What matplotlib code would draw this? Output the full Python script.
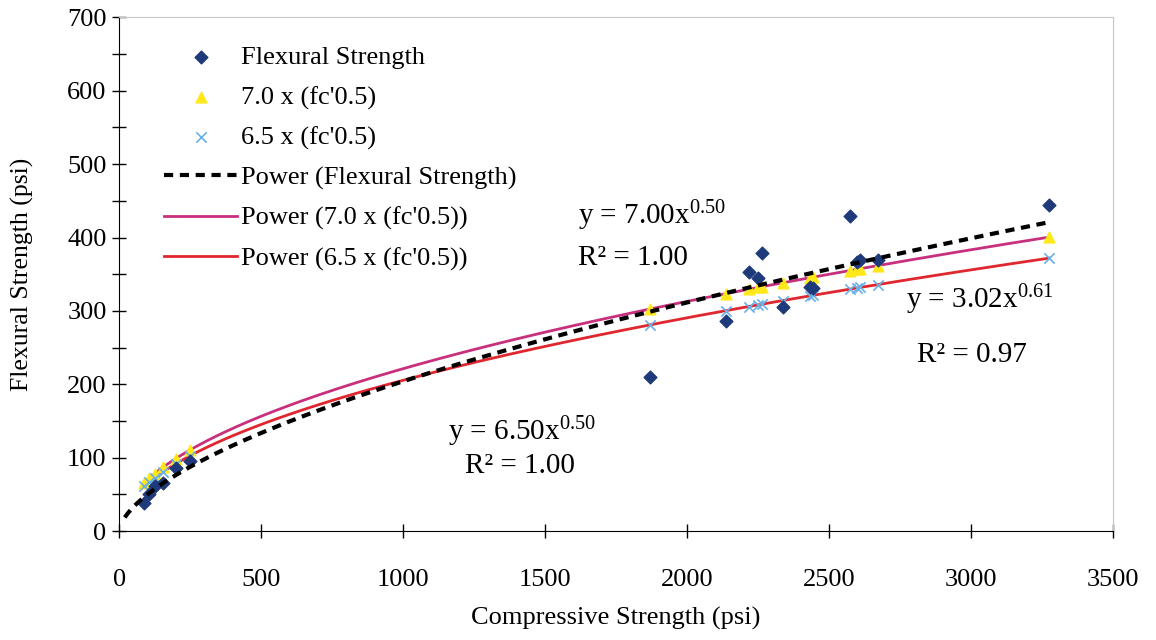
import numpy as np
import matplotlib
matplotlib.use("Agg")
import matplotlib.pyplot as plt
from matplotlib.ticker import MultipleLocator

plt.rcParams["font.family"] = ["Liberation Serif", "DejaVu Serif"]
plt.rcParams["mathtext.fontset"] = "custom"
plt.rcParams["mathtext.rm"] = "Liberation Serif"
plt.rcParams["mathtext.it"] = "Liberation Serif:italic"

# Compressive strength (psi) and measured flexural strength (psi)
compressive = [88, 106, 125, 155, 200, 250,
               1870, 2136, 2217, 2249, 2263, 2337, 2432, 2443,
               2573, 2598, 2608, 2672, 3275]
flexural = [38, 50, 62, 65, 86, 95,
            210, 286, 353, 345, 379, 305, 332, 331,
            430, 366, 369, 369, 444]

# Trendline coefficients shown on the chart (y = a * x^b)
fit_flex = (3.02, 0.61)
fit_70 = (7.00, 0.50)
fit_65 = (6.50, 0.50)

fc = np.array(compressive, dtype=float)
pred_70 = fit_70[0] * np.sqrt(fc)
pred_65 = fit_65[0] * np.sqrt(fc)

fig = plt.figure(figsize=(11.56, 6.4), dpi=100)
ax = fig.add_axes([0.103, 0.170, 0.860, 0.803])

ax.scatter(fc, flexural, marker="D", s=42, color="#1F3A7A", zorder=4,
           label="Flexural Strength")
ax.scatter(fc, pred_70, marker="^", s=60, color="#FFE81A", zorder=3,
           label="7.0 x (fc'0.5)")
ax.scatter(fc, pred_65, marker="x", s=55, color="#6AB0E6", linewidths=1.2,
           zorder=3, label="6.5 x (fc'0.5)")

xs = np.linspace(20, fc.max(), 300)
ax.plot(xs, fit_flex[0] * xs ** fit_flex[1], color="black", lw=3,
        dashes=(2.2, 1.6), zorder=5, label="Power (Flexural Strength)")
xs2 = np.linspace(fc.min(), fc.max(), 300)
ax.plot(xs2, fit_70[0] * xs2 ** fit_70[1], color="#C8307E", lw=2,
        zorder=2, label="Power (7.0 x (fc'0.5))")
ax.plot(xs2, fit_65[0] * xs2 ** fit_65[1], color="#E0262E", lw=2,
        zorder=2, label="Power (6.5 x (fc'0.5))")

# Trendline equations
fs = 21
ax.text(1875, 430, r"y = 7.00x$^{0.50}$", fontsize=fs, ha="center", va="center")
ax.text(1808, 372, "R² = 1.00", fontsize=fs, ha="center", va="center")
ax.text(3030, 315, r"y = 3.02x$^{0.61}$", fontsize=fs, ha="center", va="center")
ax.text(3003, 240, "R² = 0.97", fontsize=fs, ha="center", va="center")
ax.text(1420, 135, r"y = 6.50x$^{0.50}$", fontsize=fs, ha="center", va="center")
ax.text(1410, 89, "R² = 1.00", fontsize=fs, ha="center", va="center")

ax.set_xlim(0, 3500)
ax.set_ylim(0, 700)
ax.xaxis.set_major_locator(MultipleLocator(500))
ax.yaxis.set_major_locator(MultipleLocator(100))
ax.yaxis.set_minor_locator(MultipleLocator(50))
ax.tick_params(which="both", direction="inout", length=10, width=1,
               labelsize=19, pad=4)
ax.tick_params(axis="x", pad=22)

for side in ["top", "right"]:
    ax.spines[side].set_color("#c8c8c8")
for side in ["left", "bottom"]:
    ax.spines[side].set_color("black")

ax.set_xlabel("Compressive Strength (psi)", fontsize=19, labelpad=12)
ax.set_ylabel("Flexural Strength (psi)", fontsize=18.5, labelpad=24)

ax.legend(loc="upper left", bbox_to_anchor=(0.035, 0.965), frameon=False,
          fontsize=19, handlelength=2.75, labelspacing=0.62, handletextpad=0.15,
          borderaxespad=0, scatterpoints=1)

fig.savefig("out.png", dpi=100, facecolor="white")
